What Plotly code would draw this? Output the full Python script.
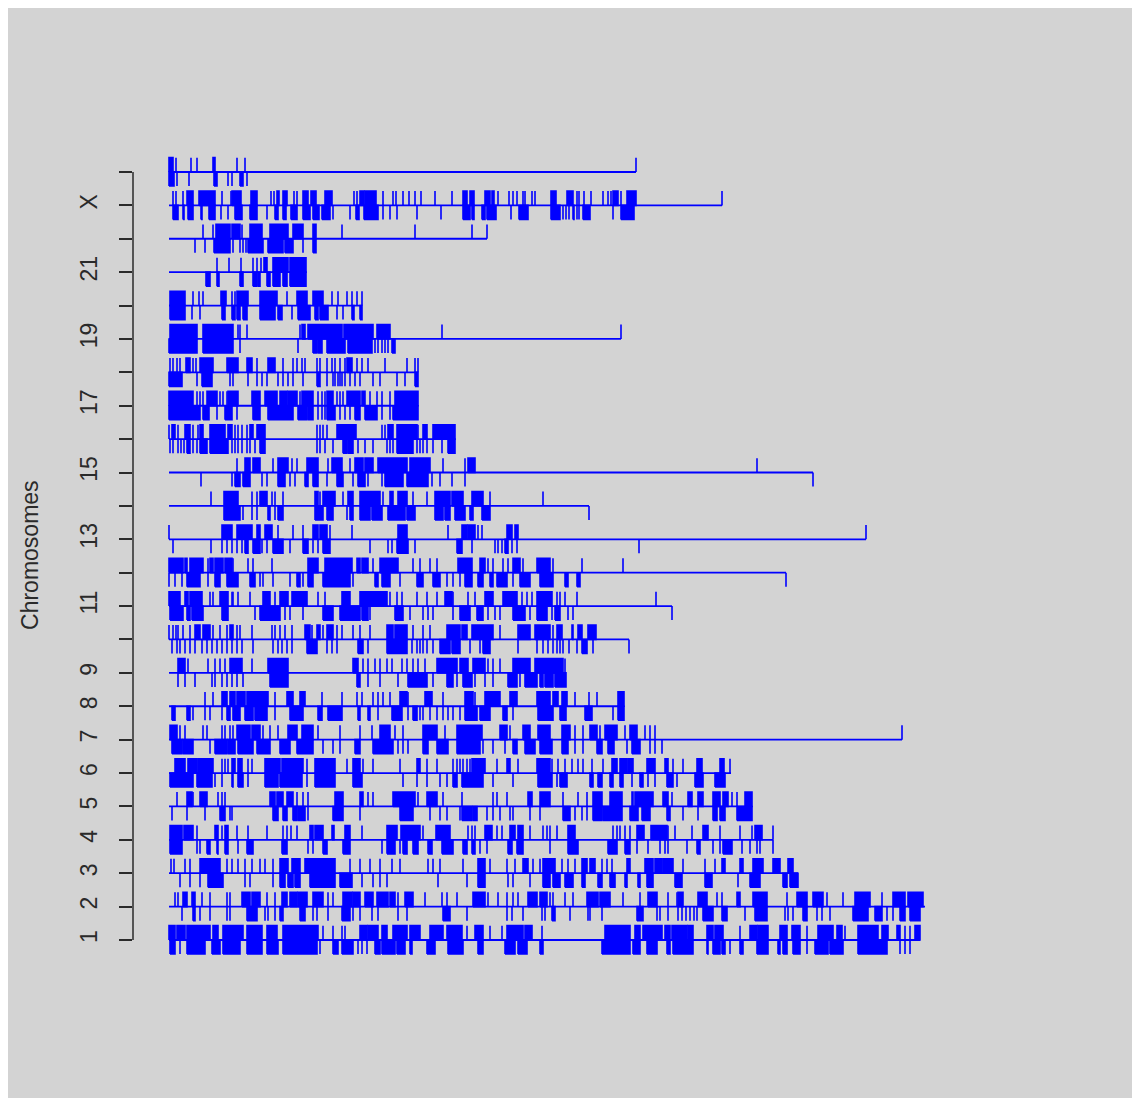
import plotly.graph_objects as go

# ---------------- data (positions along each chromosome, arbitrary units) -------------
chromosomes = ["1", "2", "3", "4", "5", "6", "7", "8", "9", "10", "11", "12",
               "13", "14", "15", "16", "17", "18", "19", "20", "21", "22", "X", "Y"]
tick_labels = ["1", "2", "3", "4", "5", "6", "7", "8", "9", "", "11", "",
               "13", "", "15", "", "17", "", "19", "", "21", "", "X", ""]

chr1_plus = [(0,6),(8,16),(18,41),(44,49),(54,74),(78,93),(98,108),(114,149),154,164,173,176,(191,198),(199,209),(213,218),(224,238),(241,251),(261,274),(278,293),298,(306,314),321,333,(338,354),(356,363),373,(436,461),(466,471),(474,493),(496,501),(503,518),(519,524),(538,544),(546,554),571,(581,588),(589,599),(611,618),(623,631),638,(649,664),(668,673),676,(689,709),(713,719),(728,731),736,741,(746,751)]
chr1_minus = [(1,6),11,(18,36),(43,51),(54,71),(78,93),(98,109),(114,148),151,(164,169),(173,184),189,193,198,(206,211),(213,226),(228,236),(241,243),(258,266),(279,294),(309,314),(336,346),(349,358),(371,374),(433,461),(464,471),(478,488),(498,501),(504,524),(538,539),(544,551),(553,556),561,(571,574),(588,599),(609,611),(614,618),(624,631),638,(646,659),(661,674),(689,718),731,736,741]
chr1_end = 751

chr2_plus = [6,9,(14,18),(23,26),33,41,58,61,(73,81),(83,91),98,106,(113,118),(121,128),(129,138),(144,154),159,164,(174,183),(184,191),(196,204),(208,219),(221,226),229,(236,244),256,273,278,288,(304,316),319,329,338,344,349,(359,368),(371,378),381,384,396,404,(418,429),(431,441),454,471,(479,488),499,508,(509,514),(529,538),548,553,(568,571),(584,598),618,(628,638),(644,654),658,674,(686,701),713,(724,736),(739,754)]
chr2_minus = [13,(24,26),31,41,58,61,(78,88),96,99,106,(111,114),(131,136),144,148,159,(173,181),184,191,203,209,229,238,(274,281),298,338,343,354,373,376,(383,386),401,419,421,433,(468,474),488,491,499,509,513,517,521,525,528,(534,544),(553,558),576,(586,598),616,619,624,(634,638),648,653,661,(684,699),(706,713),718,724,(731,736),(741,751)]
chr2_end = 756

chr3_plus = [2,5,16,21,(31,51),58,63,69,76,83,91,96,104,(111,119),(123,131),(136,166),181,191,201,211,223,231,259,264,271,294,(309,316),321,338,346,(354,359),364,371,(374,386),393,399,406,(413,418),(421,426),433,438,443,(458,461),(476,484),(486,493),(494,504),514,536,546,(553,556),(571,574),(584,594),(604,611),(619,624)]
chr3_minus = [11,21,31,(39,54),76,81,104,(111,116),(119,124),(126,131),(141,166),(171,183),193,204,211,218,269,298,(309,316),339,344,361,(374,381),(384,391),(396,404),(413,416),(429,433),(441,446),(456,458),(469,471),(478,484),(506,513),(536,543),569,(581,591),(614,618),(621,629)]
chr3_end = 629

chr4_plus = [(1,13),(15,24),28,(46,49),53,(56,59),68,79,98,114,118,122,128,(141,144),(146,154),(163,165),(176,181),193,(218,228),(232,251),254,(267,281),299,303,306,(316,323),328,333,(341,346),(349,354),361,374,378,381,388,(399,406),444,448,451,456,461,(468,475),(482,498),499,506,523,(534,539),551,571,583,(586,593),604]
chr4_minus = [(1,13),28,31,(38,41),(48,49),(56,59),69,(78,84),(113,118),139,144,(154,158),(174,181),213,(218,226),231,(234,238),(244,249),(259,263),(273,284),(294,298),(303,306),311,318,(339,343),(348,354),381,(399,409),(439,448),(456,461),468,479,491,496,499,518,(528,531),544,551,(554,563),573,581,588,591,604]
chr4_end = 604

chr5_plus = [8,(18,23),24,(31,38),49,53,56,(101,106),(108,114),(118,124),128,134,139,(166,174),(191,194),199,204,(224,246),249,(258,268),274,293,324,328,338,(359,363),(371,381),394,409,418,(424,433),(441,453),(463,464),(466,484),(494,499),503,(519,523),(529,534),(544,551),(554,559),563,568,(576,583)]
chr5_minus = [3,18,36,(51,56),61,63,(104,109),(114,118),(124,128),(129,136),139,(164,174),191,(231,244),261,271,278,291,(293,303),(304,308),318,324,331,341,344,361,371,(394,401),406,413,418,(424,433),(434,453),(461,469),(473,481),(498,501),514,529,(544,548),(551,556),(568,583)]
chr5_end = 583

chr6_plus = [(6,16),(19,28),(29,44),53,56,59,(63,66),(69,73),79,83,(96,111),(113,134),138,(146,166),178,(184,191),194,204,231,(248,251),258,268,284,288,291,294,298,301,(303,316),328,(338,341),349,(368,381),383,389,396,403,409,414,423,434,(443,448),(451,458),(459,464),(478,486),(496,499),504,514,(528,533),(551,555),561]
chr6_minus = [(1,24),(28,43),46,53,(63,64),(69,74),79,(96,109),(111,133),138,(146,166),(184,193),234,248,258,271,278,(284,288),(293,314),324,344,(369,383),388,(391,398),(421,424),(429,433),(441,444),(451,454),463,(471,474),479,486,(498,504),508,(526,534),(546,556)]
chr6_end = 562

chr7_plus = [(1,8),11,16,34,38,53,56,61,64,(68,81),(83,91),94,101,109,(119,128),(133,144),149,171,191,203,(211,221),226,234,(254,268),276,(288,313),(331,338),341,(354,361),(369,381),(393,401),406,414,(421,428),431,(436,448),456,(461,468),476,481,486,733]
chr7_minus = [(3,13),(14,24),41,(46,58),(59,66),(69,84),(88,101),(111,121),(128,144),154,164,171,(186,191),(204,224),229,234,239,(254,259),(268,279),(288,311),314,324,336,(344,348),(356,366),(371,383),(393,399),406,414,(428,433),(439,445),458,(463,471),481,486,493]
chr7_end = 733

chr8_plus = [36,44,(53,58),(61,66),(68,76),(78,99),106,(118,124),(131,136),153,173,188,193,204,209,214,221,(231,238),239,(256,263),274,(296,304),306,(316,331),(341,348),(368,381),(384,389),(393,398),406,420,428,(449,455)]
chr8_minus = [(3,6),(18,21),24,36,41,53,(58,61),(64,71),(76,84),(86,98),106,(121,134),(149,153),(159,173),(189,191),(199,201),209,(223,233),239,(244,248),251,254,261,268,274,279,284,291,(296,308),(311,321),(334,338),344,(369,384),(391,397),(416,423),444,(449,455)]
chr8_end = 455

chr9_plus = [(9,16),19,39,46,51,56,(61,73),83,(99,119),(184,189),194,199,206,211,218,223,233,238,244,249,256,(268,288),(291,299),(304,316),319,324,331,(344,361),(366,394),396]
chr9_minus = [9,16,26,43,46,53,58,63,68,74,(101,119),(188,191),199,211,229,(239,258),264,(278,284),288,(294,303),306,316,324,(339,348),351,(356,368),(371,374),(376,384),(386,397)]
chr9_end = 397

chr10_plus = [0,4,7,9,14,21,(26,31),(34,41),44,51,58,(61,64),68,71,83,103,106,111,116,123,(136,141),143,(148,151),154,(158,164),168,173,184,191,201,(218,224),(226,238),244,254,261,(278,291),(293,298),(303,324),331,(349,361),(366,381),384,(388,393),(403,404),(409,413),(419,427)]
chr10_minus = [3,8,11,16,21,26,33,38,43,48,53,58,63,68,73,84,104,109,113,118,123,(138,148),158,163,168,(189,194),199,(218,238),243,248,251,254,258,264,(271,281),(283,291),301,311,(314,321),349,368,374,379,384,388,391,394,400,408,(413,418),424,460]
chr10_end = 460

chr11_plus = [(0,11),(16,19),(21,33),41,44,(51,59),63,64,69,81,(94,101),106,(111,119),(123,138),149,156,(173,181),(191,218),221,228,233,248,258,268,(276,283),284,299,306,(316,324),(334,348),353,358,363,(368,383),388,391,396,408,487]
chr11_minus = [(1,14),(18,21),(23,34),(53,59),86,(91,111),116,121,134,(154,164),(171,191),(193,199),201,(226,234),241,254,259,264,284,(291,301),(308,314),319,326,331,(344,356),361,(368,378),383,(386,391),399,404,503]
chr11_end = 503

chr12_plus = [(0,14),(16,18),(21,34),39,(41,44),(46,54),(56,63),64,79,84,103,(139,149),(156,183),(188,191),(193,199),204,(211,229),244,251,261,268,(289,303),(311,316),319,324,334,339,(344,351),354,(368,381),384,413,454]
chr12_minus = [0,6,13,(18,31),39,(46,51),(58,69),(81,86),91,94,104,121,(128,131),134,(139,144),(154,181),184,(206,209),(213,221),231,(248,254),(264,271),278,284,291,(296,303),(309,314),(321,324),(328,338),344,(351,361),(371,384),(396,399),(408,411),617]
chr12_end = 617

chr13_plus = [0,(53,63),(68,83),(88,91),(96,103),109,124,134,(144,149),(151,158),161,183,(229,238),279,(293,298),(299,306),309,313,(338,343),(346,349),697]
chr13_minus = [4,42,53,58,63,68,73,(76,79),(84,91),93,98,(104,114),121,(134,139),144,149,(154,161),201,219,223,(228,239),246,(288,293),303,326,329,333,(336,339),343,348,470]
chr13_end = 697

chr14_plus = [42,(55,69),83,88,(91,98),103,106,114,(146,149),151,(154,166),174,(179,184),(191,211),214,(221,224),(229,238),244,258,(266,281),(283,294),(303,314),321,374]
chr14_minus = [(55,71),74,83,88,(99,101),106,(109,114),(146,154),(158,164),178,(181,184),(191,201),(203,213),(219,236),(238,246),(266,274),(276,281),(286,296),(301,304),(313,321),420]
chr14_end = 420

chr15_plus = [68,(76,81),(84,91),104,(109,119),123,128,(138,149),159,(163,173),181,(186,194),(196,204),(209,238),(241,261),274,296,(299,306),588]
chr15_minus = [32,63,(66,71),(74,81),93,98,(109,116),121,126,(136,139),(144,149),158,(168,174),184,(189,196),199,213,(216,234),(238,259),263,271,283,296,644]
chr15_end = 644

chr16_plus = [0,(3,6),9,(16,21),24,29,(31,34),(41,56),(59,63),66,69,73,78,(81,84),(88,96),148,151,154,158,(168,187),213,216,(219,224),(228,248),249,(254,258),(264,286)]
chr16_minus = [1,4,9,12,15,(18,21),24,28,(31,38),(41,59),63,66,69,73,78,81,86,(91,96),148,151,156,164,(174,178),(179,184),189,196,204,218,221,224,(228,244),248,251,254,258,264,273,(279,286)]
chr16_end = 286

chr17_plus = [(0,24),28,31,34,(38,48),51,54,58,(59,69),(83,91),(96,108),(111,118),(119,128),131,(133,144),149,153,156,(158,164),168,171,174,(178,191),(193,196),201,208,213,221,(226,249)]
chr17_minus = [(0,31),(34,40),48,(56,63),68,(84,91),(99,124),(129,138),(139,144),149,153,156,(158,166),171,176,181,(186,191),(196,208),213,221,(224,249)]
chr17_end = 249

chr18_plus = [1,4,8,11,(17,21),24,27,(31,44),(58,69),(78,83),88,(99,106),114,124,128,133,136,148,151,158,163,166,171,176,(178,183),188,193,199,216,238,246,249]
chr18_minus = [(0,13),28,(33,43),61,64,79,88,93,98,109,114,119,124,134,(148,151),158,164,166,169,171,173,176,181,186,191,204,211,228,236,(246,249)]
chr18_end = 249

chr19_plus = [(1,28),(34,64),69,71,78,131,(133,136),(139,173),(175,204),(208,221),273,452]
chr19_minus = [(0,28),(34,64),71,129,(144,148),(149,153),(158,176),(179,203),206,209,213,216,219,(223,226)]
chr19_end = 452

chr20_plus = [(1,16),24,30,34,(52,57),63,66,(68,79),(91,108),118,(128,138),(144,154),163,169,178,183,188,193]
chr20_minus = [(1,16),23,31,(53,56),(63,66),(68,71),(74,78),(91,106),(109,113),123,(129,141),(146,149),(151,159),168,174,(183,185),(191,193)]
chr20_end = 193

chr21_plus = [48,60,72,84,88,92,(95,98),(104,119),(121,137)]
chr21_minus = [(37,41),(48,50),(71,74),(84,88),(89,91),(98,101),(104,111),(114,118),(121,137)]
chr21_end = 137

chr22_plus = [34,44,(47,61),(63,71),73,(81,93),(101,119),(124,134),(144,147),173,246,303,318]
chr22_minus = [26,36,(45,61),64,71,74,77,(79,94),(99,114),(116,124),134,(144,147)]
chr22_end = 318

chrX_plus = [4,7,14,(18,24),(30,46),53,62,(63,72),(82,88),102,105,(108,110),(114,118),125,128,(134,139),(142,147),(156,163),185,188,(191,195),(196,207),214,224,227,234,240,246,252,266,283,(294,298),(301,305),(316,321),(323,325),329,340,344,348,354,356,363,366,(382,387),(398,404),408,410,415,422,434,439,442,(444,449),452,(458,467),553]
chrX_minus = [(4,9),(14,15),(19,24),(32,33),(40,46),52,59,(66,73),(81,88),98,(106,109),(114,117),(122,128),(134,141),(144,150),(153,161),164,181,(187,190),(195,209),214,221,228,248,272,(294,301),(303,305),(313,316),(318,327),342,(350,359),(382,391),394,397,400,(404,405),408,410,(414,421),444,(452,465)]
chrX_end = 553

chrY_plus = [(0,4),7,22,28,(44,46),68,76,467]
chrY_minus = [(0,5),8,20,(45,48),59,63,(71,74),78]
chrY_end = 467

plus_strand = [chr1_plus, chr2_plus, chr3_plus, chr4_plus, chr5_plus, chr6_plus, chr7_plus,
               chr8_plus, chr9_plus, chr10_plus, chr11_plus, chr12_plus, chr13_plus, chr14_plus,
               chr15_plus, chr16_plus, chr17_plus, chr18_plus, chr19_plus, chr20_plus,
               chr21_plus, chr22_plus, chrX_plus, chrY_plus]
minus_strand = [chr1_minus, chr2_minus, chr3_minus, chr4_minus, chr5_minus, chr6_minus, chr7_minus,
                chr8_minus, chr9_minus, chr10_minus, chr11_minus, chr12_minus, chr13_minus, chr14_minus,
                chr15_minus, chr16_minus, chr17_minus, chr18_minus, chr19_minus, chr20_minus,
                chr21_minus, chr22_minus, chrX_minus, chrY_minus]
chrom_ends = [chr1_end, chr2_end, chr3_end, chr4_end, chr5_end, chr6_end, chr7_end, chr8_end,
              chr9_end, chr10_end, chr11_end, chr12_end, chr13_end, chr14_end, chr15_end,
              chr16_end, chr17_end, chr18_end, chr19_end, chr20_end, chr21_end, chr22_end,
              chrX_end, chrY_end]

# ---------------- build figure ----------------
BLUE = "#0000ff"
H_UP = 0.43
H_DN = 0.42

gx, gy = [], []
for i, (pl, mi) in enumerate(zip(plus_strand, minus_strand)):
    yc = i + 1
    for items, y0, y1 in ((pl, yc, yc + H_UP), (mi, yc - H_DN, yc)):
        for it in items:
            a, b = (it, it) if not isinstance(it, tuple) else it
            gx += [a, b, b, a, a, None]
            gy += [y0, y0, y1, y1, y0, None]

bx, by = [], []
for i, e in enumerate(chrom_ends):
    bx += [0, e, None]
    by += [i + 1, i + 1, None]

fig = go.Figure()
fig.add_trace(go.Scatter(x=bx, y=by, mode="lines",
                         line=dict(color=BLUE, width=1.8), hoverinfo="skip",
                         showlegend=False))
fig.add_trace(go.Scatter(x=gx, y=gy, mode="lines", fill="toself",
                         fillcolor=BLUE, line=dict(color=BLUE, width=1.6),
                         hoverinfo="skip", showlegend=False))

AX = "#2a2a2a"
FONT = "Liberation Sans, Arial, Helvetica, sans-serif"

fig.update_layout(
    width=1132, height=1090,
    margin=dict(l=125, r=7, t=132, b=118),
    paper_bgcolor="#d3d3d3", plot_bgcolor="#d3d3d3",
    showlegend=False,
    xaxis=dict(visible=False, range=[-36, 964], fixedrange=True),
    yaxis=dict(range=[-0.198, 24.958], tickmode="array",
               tickvals=list(range(1, len(chromosomes) + 1)), ticktext=tick_labels,
               ticks="outside", ticklen=13, tickwidth=1.5, tickcolor=AX,
               showline=False, showgrid=False, zeroline=False,
               tickangle=-90, ticklabelstandoff=13,
               tickfont=dict(family=FONT, size=23, color=AX)),
    shapes=[dict(type="line", xref="paper", yref="y", x0=0, x1=0, y0=1, y1=24,
                 line=dict(color=AX, width=1.5))],
    annotations=[dict(text="Chromosomes", xref="paper", yref="paper",
                      x=-0.103, y=0.506, xanchor="center", yanchor="middle",
                      showarrow=False, textangle=-90,
                      font=dict(family=FONT, size=23, color=AX))],
)

fig.write_html("out.html")
